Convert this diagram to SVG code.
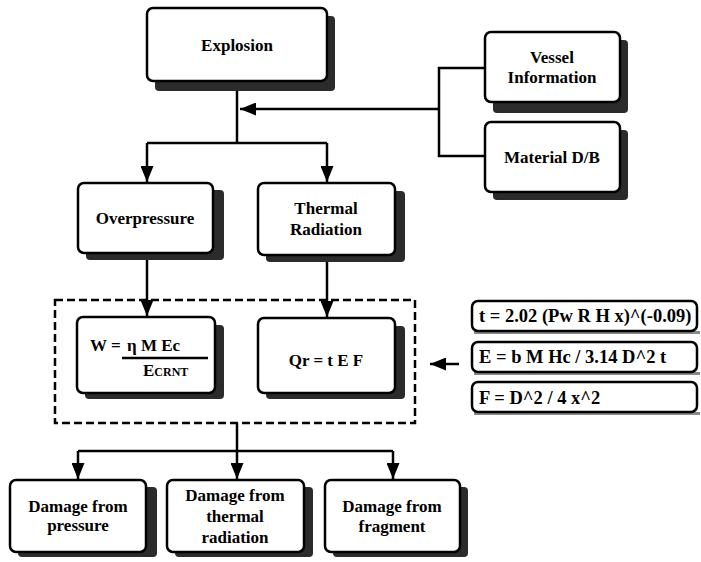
<svg xmlns="http://www.w3.org/2000/svg" width="701" height="562" viewBox="0 0 701 562">
<style>
.box{fill:#fff;stroke:#000;stroke-width:2.5}
.sh{fill:#2b2b2b}
.shl{fill:#8a8a8a}
.t{font-family:'Liberation Serif','DejaVu Serif',serif;font-weight:bold;font-size:17px;fill:#000;text-anchor:middle}
.f{font-family:'Liberation Serif','DejaVu Serif',serif;font-weight:bold;font-size:17px;fill:#000}
.fr{font-family:'Liberation Serif','DejaVu Serif',serif;font-weight:bold;font-size:18.5px;fill:#000}
.ln{fill:none;stroke:#000;stroke-width:2.5}
.dash{fill:none;stroke:#000;stroke-width:2.5;stroke-dasharray:8 4}
</style>
<defs>
<marker id="ah" viewBox="0 0 16 13" refX="16" refY="6.5" markerWidth="6.4" markerHeight="5.2" markerUnits="strokeWidth" orient="auto">
<path d="M0,0 L16,6.5 L0,13 Z" fill="#000"/>
</marker>
</defs>
<rect width="701" height="562" fill="#fff"/>

<g id="connectors">
<path class="ln" d="M237,91 V143"/>
<path class="ln" d="M147,143 H327"/>
<path class="ln" d="M147,143 V182" marker-end="url(#ah)"/>
<path class="ln" d="M327,143 V182" marker-end="url(#ah)"/>
<path class="ln" d="M439,109 H240" marker-end="url(#ah)"/>
<path class="ln" d="M485,68 H439 V156 H485"/>
<path class="ln" d="M147,260 V316" marker-end="url(#ah)"/>
<path class="ln" d="M327,262 V317" marker-end="url(#ah)"/>
<path class="ln" d="M459,364 H430" marker-end="url(#ah)"/>
<path class="ln" d="M237,423 V479" marker-end="url(#ah)"/>
<path class="ln" d="M78,451 H393"/>
<path class="ln" d="M78,451 V479" marker-end="url(#ah)"/>
<path class="ln" d="M393,451 V479" marker-end="url(#ah)"/>
</g>

<g id="model-group">
<rect class="dash" x="55" y="300" width="360" height="123"/>
</g>

<g id="explosion">
<rect class="sh" x="155" y="16" width="180" height="75" rx="4"/>
<rect class="box" x="147" y="8" width="180" height="73" rx="6"/>
<text class="t" x="237" y="51">Explosion</text>
</g>

<g id="vessel-information">
<rect class="sh" x="493" y="40" width="135" height="73" rx="4"/>
<rect class="box" x="485" y="32" width="135" height="70" rx="6"/>
<text class="t" x="552" y="63">Vessel</text>
<text class="t" x="552" y="83">Information</text>
</g>

<g id="material-db">
<rect class="sh" x="493" y="130" width="135" height="70" rx="4"/>
<rect class="box" x="485" y="122" width="135" height="70" rx="6"/>
<text class="t" x="552" y="163">Material D/B</text>
</g>

<g id="overpressure">
<rect class="sh" x="86" y="190" width="138" height="70" rx="4"/>
<rect class="box" x="78" y="183" width="135" height="70" rx="6"/>
<text class="t" x="145" y="224">Overpressure</text>
</g>

<g id="thermal-radiation">
<rect class="sh" x="266" y="191" width="139" height="71" rx="4"/>
<rect class="box" x="258" y="183" width="137" height="72" rx="6"/>
<text class="t" x="326" y="214">Thermal</text>
<text class="t" x="326" y="235">Radiation</text>
</g>

<g id="tnt-equivalent">
<rect class="sh" x="85" y="325" width="139" height="74" rx="4"/>
<rect class="box" x="77" y="317" width="138" height="76" rx="6"/>
<text class="f" x="90" y="351">W =</text>
<text class="f" x="127" y="351">η M Ec</text>
<path d="M122,358 H208" stroke="#000" stroke-width="2.5"/>
<text class="f" x="143" y="376">E<tspan font-size="12">CRNT</tspan></text>
</g>

<g id="heat-flux">
<rect class="sh" x="266" y="326" width="139" height="73" rx="4"/>
<rect class="box" x="258" y="318" width="137" height="75" rx="6"/>
<text class="t" x="326" y="366">Qr = t E F</text>
</g>

<g id="formula-t">
<rect class="shl" x="474" y="331" width="226" height="3"/>
<rect class="box" x="472" y="301" width="225" height="30" rx="6"/>
<text class="fr" x="479" y="322">t = 2.02 (Pw R H x)^(-0.09)</text>
</g>

<g id="formula-e">
<rect class="shl" x="474" y="372" width="226" height="3"/>
<rect class="box" x="472" y="342" width="225" height="30" rx="6"/>
<text class="fr" x="479" y="363">E = b M Hc / 3.14 D^2 t</text>
</g>

<g id="formula-f">
<rect class="shl" x="474" y="412" width="226" height="3"/>
<rect class="box" x="472" y="382" width="225" height="30" rx="6"/>
<text class="fr" x="479" y="404">F = D^2 / 4 x^2</text>
</g>

<g id="damage-pressure">
<rect class="sh" x="18" y="487" width="139" height="70" rx="4"/>
<rect class="box" x="10" y="480" width="136" height="72" rx="6"/>
<text class="t" x="78" y="512">Damage from</text>
<text class="t" x="78" y="531">pressure</text>
</g>

<g id="damage-thermal">
<rect class="sh" x="175" y="487" width="138" height="70" rx="4"/>
<rect class="box" x="167" y="480" width="137" height="72" rx="6"/>
<text class="t" x="235" y="501">Damage from</text>
<text class="t" x="235" y="522">thermal</text>
<text class="t" x="235" y="543">radiation</text>
</g>

<g id="damage-fragment">
<rect class="sh" x="333" y="487" width="135" height="70" rx="4"/>
<rect class="box" x="325" y="480" width="135" height="72" rx="6"/>
<text class="t" x="392" y="512">Damage from</text>
<text class="t" x="392" y="532">fragment</text>
</g>
</svg>
